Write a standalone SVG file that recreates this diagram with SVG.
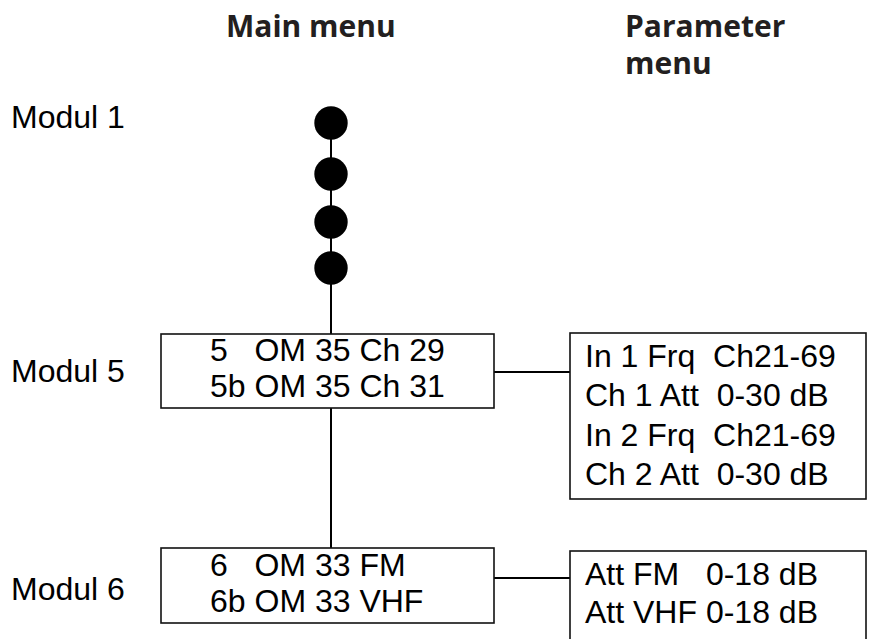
<svg xmlns="http://www.w3.org/2000/svg" width="870" height="639" viewBox="0 0 870 639">
<style>
.h{font-family:"Open Sans","Noto Sans",sans-serif;font-weight:bold;font-size:30px;fill:#231f20}
.t{font-family:"Liberation Sans",Arial,sans-serif;font-size:32px;fill:#000}
.box{fill:#fff;stroke:#111;stroke-width:1.6}
.ln{stroke:#000;stroke-width:2;fill:none}
.dot{fill:#000}
</style>
<rect width="870" height="639" fill="#fff"/>
<g id="headings">
<text class="h" x="226" y="37">Main menu</text>
<text class="h" x="625" y="37">Parameter</text>
<text class="h" x="625" y="74">menu</text>
</g>
<g id="labels">
<text class="t" x="11" y="128">Modul 1</text>
<text class="t" x="11" y="382">Modul 5</text>
<text class="t" x="11" y="600">Modul 6</text>
</g>
<g id="connectors">
<line class="ln" x1="331" y1="123" x2="331" y2="334"/>
<line class="ln" x1="331" y1="408" x2="331" y2="548"/>
<line class="ln" x1="494" y1="372" x2="570" y2="372"/>
<line class="ln" x1="494" y1="578" x2="570" y2="578"/>
</g>
<g id="modul1-dots">
<circle class="dot" cx="331" cy="123" r="16.7"/>
<circle class="dot" cx="331" cy="174" r="16.7"/>
<circle class="dot" cx="331" cy="222" r="16.7"/>
<circle class="dot" cx="331" cy="268" r="16.7"/>
</g>
<g id="modul5-main">
<rect class="box" x="161" y="334" width="333" height="74"/>
<text class="t" x="210" y="361" xml:space="preserve">5   OM 35 Ch 29</text>
<text class="t" x="210" y="397">5b OM 35 Ch 31</text>
</g>
<g id="modul5-param">
<rect class="box" x="570" y="333" width="296" height="166"/>
<text class="t" x="585" y="367" xml:space="preserve">In 1 Frq  Ch21-69</text>
<text class="t" x="585" y="406" xml:space="preserve">Ch 1 Att  0-30 dB</text>
<text class="t" x="585" y="446" xml:space="preserve">In 2 Frq  Ch21-69</text>
<text class="t" x="585" y="485" xml:space="preserve">Ch 2 Att  0-30 dB</text>
</g>
<g id="modul6-main">
<rect class="box" x="161" y="548" width="333" height="75"/>
<text class="t" x="210" y="576" xml:space="preserve">6   OM 33 FM</text>
<text class="t" x="210" y="612">6b OM 33 VHF</text>
</g>
<g id="modul6-param">
<rect class="box" x="570" y="551" width="296" height="100"/>
<text class="t" x="585" y="585" xml:space="preserve">Att FM   0-18 dB</text>
<text class="t" x="585" y="623" xml:space="preserve">Att VHF 0-18 dB</text>
</g>
</svg>
